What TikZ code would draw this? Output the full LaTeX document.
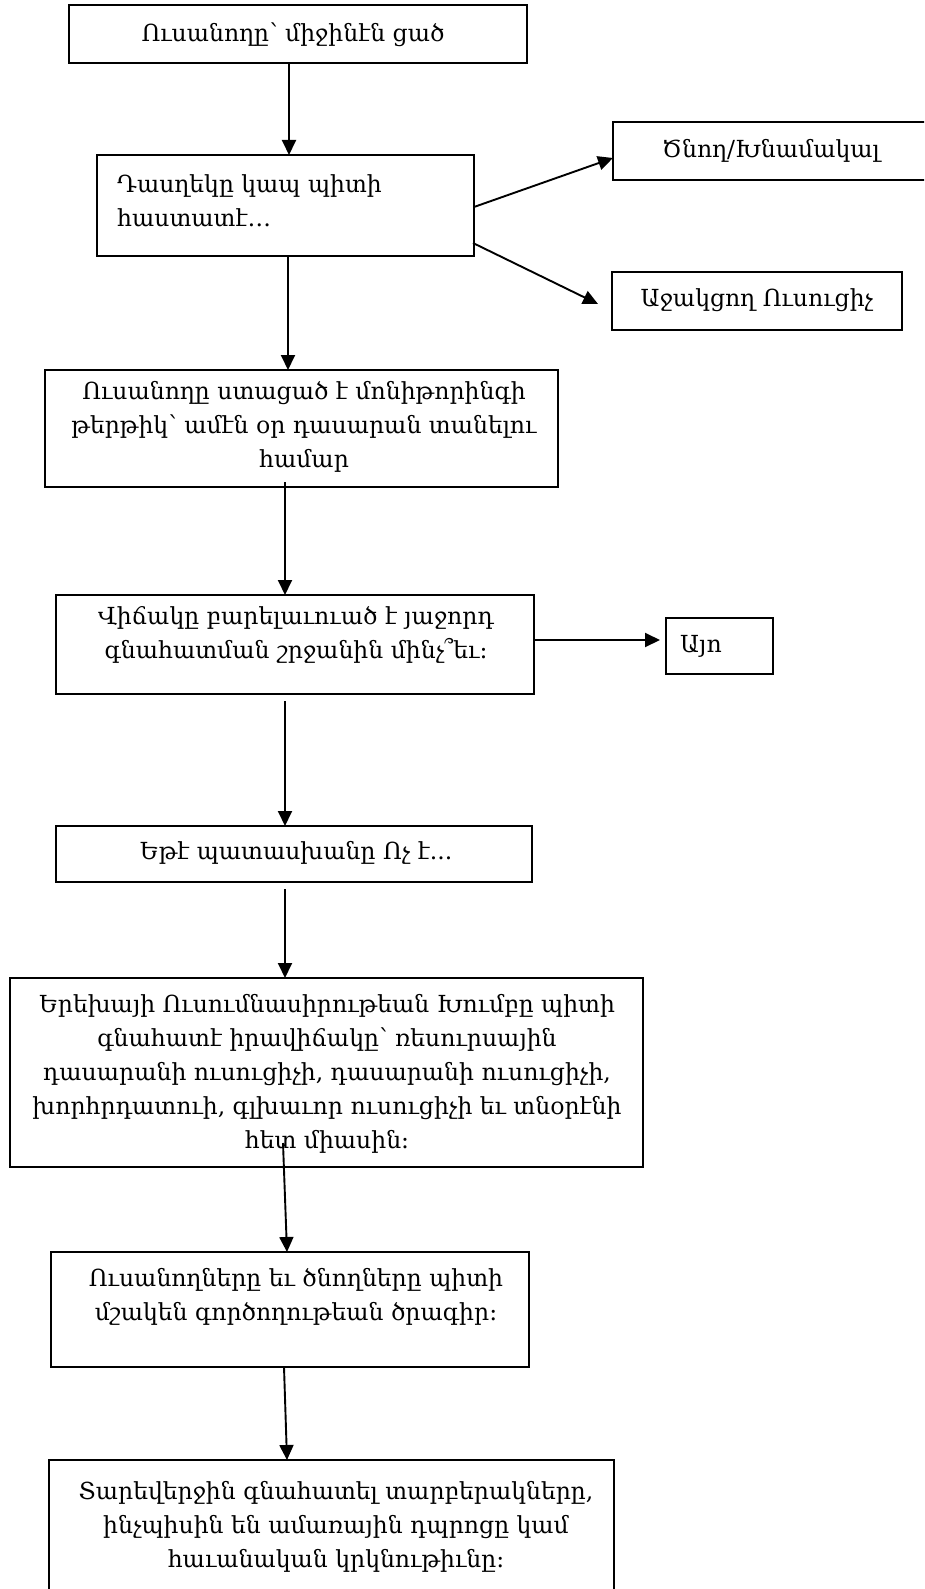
\documentclass[tikz,border=0pt]{standalone}
\usepackage{fontspec}
\setmainfont{DejaVu Serif}
\usetikzlibrary{arrows.meta,calc}
\tikzset{
  box/.style={draw, line width=2pt, inner sep=0pt, outer sep=0pt},
  txt/.style={font=\fontsize{23.5}{34}\selectfont, align=center, inner sep=0pt},
  arr/.style={line width=1.9pt, -{Triangle[length=15pt,width=14pt]}},
}
\begin{document}
\begin{tikzpicture}[x=1pt,y=-1pt]
\useasboundingbox (0,0) rectangle (924,1589);
\clip (0,0) rectangle (924,1589);
% boxes
\node[box, minimum width=458pt, minimum height=58pt]  (b1) at (298,34) {};
\node[box, minimum width=377pt, minimum height=101pt] (b2) at (285.5,205.5) {};
\node[box, minimum width=319pt, minimum height=58pt]  (bP) at (772.5,151) {};
\node[box, minimum width=290pt, minimum height=58pt]  (bA) at (757,301) {};
\node[box, minimum width=513pt, minimum height=117pt] (b3) at (301.5,428.5) {};
\node[box, minimum width=478pt, minimum height=99pt]  (b4) at (295,644.5) {};
\node[box, minimum width=107pt, minimum height=56pt]  (bY) at (719.5,646) {};
\node[box, minimum width=476pt, minimum height=56pt]  (b5) at (294,854) {};
\node[box, minimum width=633pt, minimum height=189pt] (b6) at (326.5,1072.5) {};
\node[box, minimum width=478pt, minimum height=115pt] (b7) at (290,1309.5) {};
\node[box, minimum width=565pt, minimum height=160pt] (b8) at (331.5,1540) {};
% texts
\node[txt] (t1) at (293,35) {Ուսանողը՝ միջինէն ցած};
\node[txt, align=left, anchor=west] (t2) at (117,201) {Դասղեկը կապ պիտի\\հաստատէ…};
\node[txt] (tP) at (771,151) {Ծնող/Խնամակալ};
\node[txt] (tA) at (757,300) {Աջակցող Ուսուցիչ};
\node[txt] (t3) at (304,427) {Ուսանողը ստացած է մոնիթորինգի\\թերթիկ՝ ամէն օր դասարան տանելու\\համար};
\node[txt] (t4) at (296,635) {Վիճակը բարելաւուած է յաջորդ\\գնահատման շրջանին մինչ՞եւ:};
\node[txt, anchor=west] (tY) at (680,646) {Այո};
\node[txt] (t5) at (296,853) {Եթէ պատասխանը Ոչ է...};
\node[txt] (t6) at (327,1074) {Երեխայի Ուսումնասիրութեան Խումբը պիտի\\գնահատէ իրավիճակը՝ ռեսուրսային\\դասարանի ուսուցիչի, դասարանի ուսուցիչի,\\խորհրդատուի, գլխաւոր ուսուցիչի եւ տնօրէնի\\հետ միասին:};
\node[txt] (t7) at (296,1297) {Ուսանողները եւ ծնողները պիտի\\մշակեն գործողութեան ծրագիր:};
\node[txt] (t8) at (336,1527) {Տարեվերջին գնահատել տարբերակները,\\ինչպիսին են ամառային դպրոցը կամ\\հաւանական կրկնութիւնը:};
% connectors
\draw[arr] (b1.south -| 289,0) -- (b2.north -| 289,0);
\draw[arr] (b2.south -| 288,0) -- (b3.north -| 288,0);
\draw[arr] ([yshift=5pt]b3.south -| 285,0) -- (b4.north -| 285,0);
\draw[arr] ([yshift=-7pt]b4.south -| 285,0) -- (b5.north -| 285,0);
\draw[arr] ([yshift=-7pt]b5.south -| 285,0) -- (b6.north -| 285,0);
\draw[arr] ([yshift=24pt]b6.south -| 283,0) -- (b7.north -| 287,0);
\draw[arr] (b7.south -| 284,0) -- (b8.north -| 287,0);
\draw[arr] (b2.east |- 0,207) -- (bP.west |- 0,158);
\draw[arr] ([xshift=-1pt]b2.east |- 0,243) -- ([xshift=-14pt]bA.west |- 0,304);
\draw[arr] (b4.east |- 0,640) -- ([xshift=-6pt]bY.west |- 0,640);
\end{tikzpicture}
\end{document}
